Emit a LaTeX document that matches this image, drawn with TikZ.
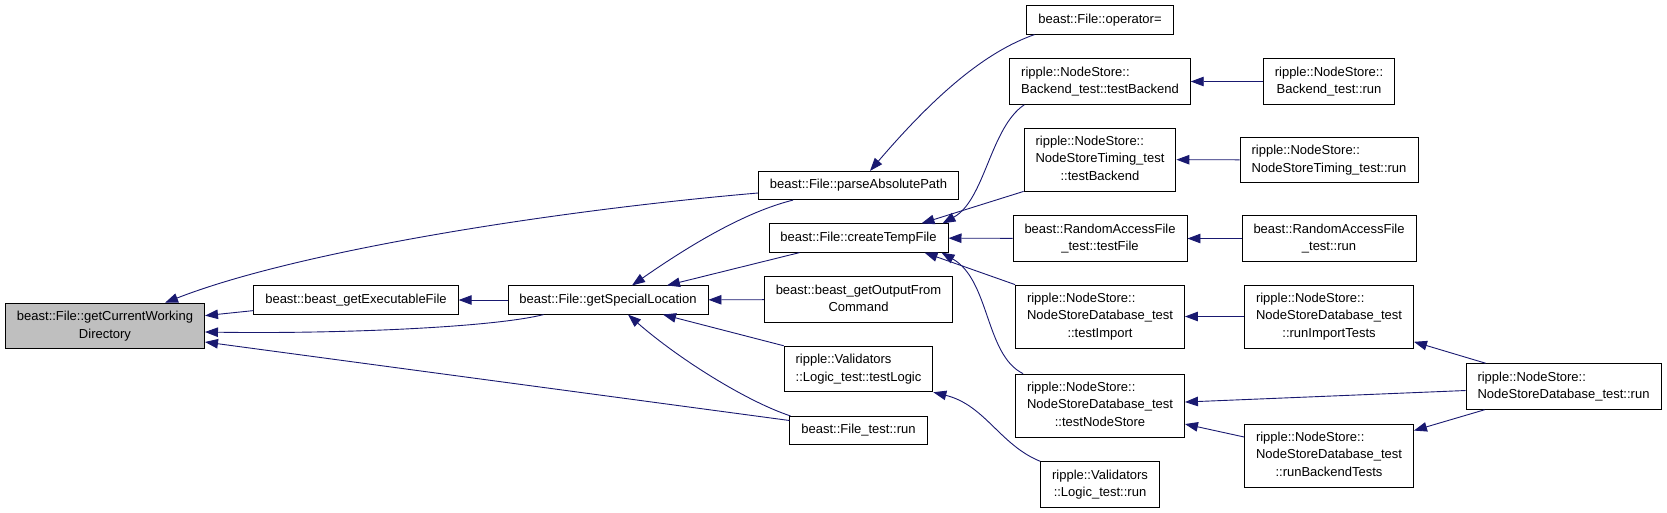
\documentclass[tikz,border=0pt]{standalone}
\usepackage{fontspec}
\setmainfont{Liberation Sans}
\usepackage{tikz}
\usetikzlibrary{arrows.meta}
\definecolor{edgeblue}{HTML}{191970}
\definecolor{rootgray}{HTML}{BFBFBF}
% first lines left, last line centred
\newcommand{\fnlabel}[2]{\begin{tabular}{@{}l@{}}#1\\\multicolumn{1}{@{}c@{}}{#2}\end{tabular}}

\begin{document}
\begin{tikzpicture}[
  x=1pt, y=-1pt,
  font=\fontsize{13}{17.3}\selectfont,
  fn/.style={draw=black, fill=white, line width=0.9pt, inner xsep=11.5pt, inner ysep=5.5pt},
  rootfn/.style={fn, fill=rootgray},
  call/.style={draw=edgeblue, line width=0.9pt, -{Triangle[length=13pt,width=9.5pt]}}
]
\useasboundingbox (0,0) rectangle (1667,512);
\node[rootfn] (cwd) at (105,326) {\fnlabel{beast::File::getCurrentWorking}{Directory}};
\node[fn] (exefile) at (356,300) {\strut beast::beast\_getExecutableFile};
\node[fn] (specloc) at (608,300) {\strut beast::File::getSpecialLocation};
\node[fn] (parsepath) at (858.5,185.5) {\strut beast::File::parseAbsolutePath};
\node[fn] (tempfile) at (858.5,238) {\strut beast::File::createTempFile};
\node[fn] (outputcmd) at (858.5,299.5) {\fnlabel{beast::beast\_getOutputFrom}{Command}};
\node[fn] (testlogic) at (858.5,369) {\fnlabel{ripple::Validators}{::Logic\_test::testLogic}};
\node[fn] (filetestrun) at (858.5,430.5) {\strut beast::File\_test::run};
\node[fn] (opassign) at (1100,20) {\strut beast::File::operator=};
\node[fn] (backendtest) at (1100,81.5) {\fnlabel{ripple::NodeStore::}{Backend\_test::testBackend}};
\node[fn] (timingtest) at (1100,159.5) {\fnlabel{ripple::NodeStore::\\NodeStoreTiming\_test}{::testBackend}};
\node[fn] (rafiletest) at (1100,238.5) {\fnlabel{beast::RandomAccessFile}{\_test::testFile}};
\node[fn] (testimport) at (1100,316.5) {\fnlabel{ripple::NodeStore::\\NodeStoreDatabase\_test}{::testImport}};
\node[fn] (testnodestore) at (1100,405.5) {\fnlabel{ripple::NodeStore::\\NodeStoreDatabase\_test}{::testNodeStore}};
\node[fn] (logicrun) at (1100,484.5) {\fnlabel{ripple::Validators}{::Logic\_test::run}};
\node[fn] (backendrun) at (1329,81.5) {\fnlabel{ripple::NodeStore::}{Backend\_test::run}};
\node[fn] (timingrun) at (1329,160) {\fnlabel{ripple::NodeStore::}{NodeStoreTiming\_test::run}};
\node[fn] (rafilerun) at (1329,238.5) {\fnlabel{beast::RandomAccessFile}{\_test::run}};
\node[fn] (runimport) at (1329,316.5) {\fnlabel{ripple::NodeStore::\\NodeStoreDatabase\_test}{::runImportTests}};
\node[fn] (runbackend) at (1329,455.5) {\fnlabel{ripple::NodeStore::\\NodeStoreDatabase\_test}{::runBackendTests}};
\node[fn] (dbrun) at (1563.5,386.5) {\fnlabel{ripple::NodeStore::}{NodeStoreDatabase\_test::run}};

% callers of getCurrentWorkingDirectory
\draw[call] ([yshift=-7.5pt]parsepath.west) .. controls (560,210) and (300,250) .. ([xshift=60pt]cwd.north);
\draw[call] (exefile) -- (cwd);
\draw[call] ([xshift=36pt]specloc.south west) .. controls (490,328) and (330,334) .. ([yshift=-6pt]cwd.east);
\draw[call] ([yshift=10pt]filetestrun.west) -- ([yshift=-16pt]cwd.east);
% callers of getSpecialLocation
\draw[call] (specloc) -- (exefile);
\draw[call] ([xshift=35pt]parsepath.south west) .. controls (745,212) and (690,245) .. ([xshift=24pt]specloc.north);
\draw[call] (tempfile) -- (specloc);
\draw[call] (outputcmd) -- (specloc);
\draw[call] (testlogic.north west) -- ([xshift=55pt]specloc.south);
\draw[call] ([xshift=1pt]filetestrun.north west) .. controls (748,402) and (680,360) .. ([xshift=20pt]specloc.south);
% next rank
\draw[call] ([xshift=8pt]opassign.south west) .. controls (985,52) and (935,95) .. ([xshift=11.5pt]parsepath.north);
\draw[call] ([xshift=15pt]backendtest.south west) .. controls (990,128) and (985,200) .. ([xshift=-6pt]tempfile.north east);
\draw[call] (timingtest.south west) -- ([xshift=-27pt]tempfile.north east);
\draw[call] (rafiletest) -- (tempfile);
\draw[call] (testimport.north west) -- ([xshift=-24pt]tempfile.south east);
\draw[call] ([xshift=8pt]testnodestore.north west) .. controls (985,355) and (990,280) .. ([xshift=-7pt]tempfile.south east);
\draw[call] (logicrun.north west) .. controls (1000,445) and (985,405) .. (testlogic.south east);
% test runners
\draw[call] (backendrun) -- (backendtest);
\draw[call] (timingrun) -- (timingtest);
\draw[call] (rafilerun) -- (rafiletest);
\draw[call] (runimport) -- (testimport);
\draw[call] (runbackend) -- (testnodestore);
\draw[call] (dbrun) -- (testnodestore);
\draw[call] (dbrun) -- (runimport);
\draw[call] (dbrun) -- (runbackend);
\end{tikzpicture}
\end{document}
